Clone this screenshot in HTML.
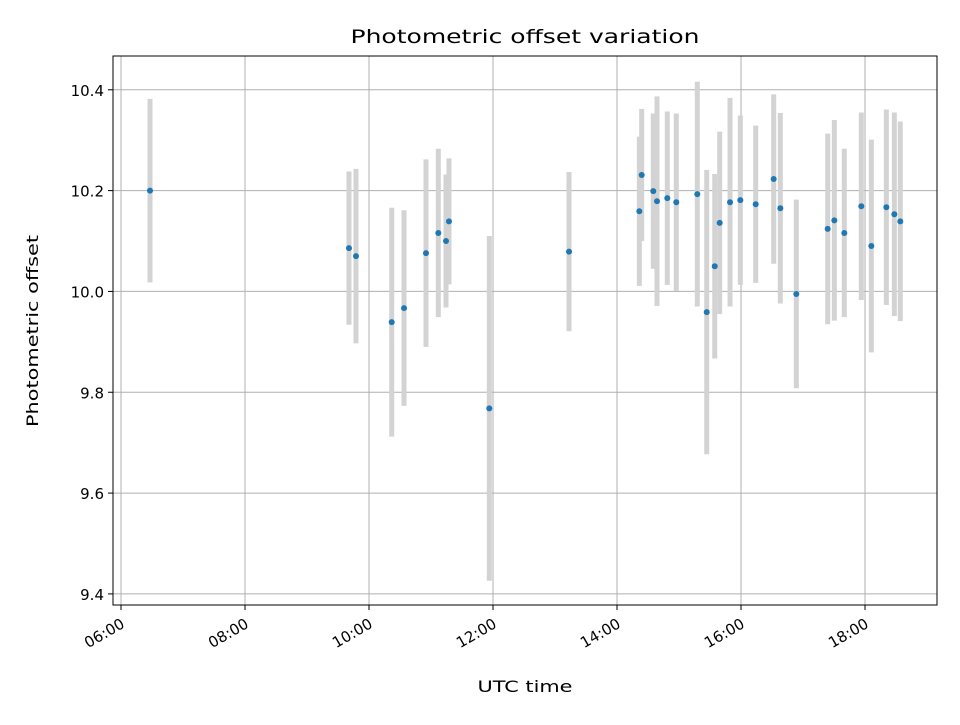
<!DOCTYPE html>
<html><head><meta charset="utf-8"><style>
body{margin:0;background:#fff;}
svg text{font-family:"DejaVu Sans","Liberation Sans",sans-serif;fill:#000;}
</style></head><body>
<svg id="chart" width="960" height="720" viewBox="0 0 960 720" xmlns="http://www.w3.org/2000/svg">
<rect width="960" height="720" fill="#fff"/>
<text x="525" y="43" font-size="19" text-anchor="middle" textLength="349" lengthAdjust="spacingAndGlyphs">Photometric offset variation</text>
<g id="grid"></g>
<g id="bars"></g>
<g id="dots"></g>
<rect x="113" y="56" width="824" height="549" fill="none" stroke="#000" stroke-width="1"/>
<g id="ticks"></g>
<text x="525" y="692" font-size="16" text-anchor="middle" textLength="95" lengthAdjust="spacingAndGlyphs">UTC time</text>
<text transform="translate(38,331) rotate(-90)" font-size="16" text-anchor="middle" textLength="192" lengthAdjust="spacingAndGlyphs">Photometric offset</text>
</svg>
<script>
const times = [6.468,9.677,9.790,10.366,10.565,10.919,11.118,11.242,11.290,11.940,13.226,14.360,14.398,14.585,14.645,14.811,14.956,15.295,15.447,15.576,15.656,15.823,15.989,16.237,16.527,16.634,16.892,17.398,17.505,17.666,17.940,18.102,18.344,18.473,18.569];
const offsets = [10.200,10.086,10.070,9.939,9.967,10.076,10.116,10.100,10.139,9.768,10.079,10.159,10.231,10.199,10.179,10.185,10.177,10.193,9.959,10.050,10.136,10.177,10.181,10.173,10.223,10.165,9.995,10.124,10.141,10.116,10.169,10.090,10.167,10.153,10.139];
const errors = [0.182,0.152,0.173,0.227,0.194,0.186,0.167,0.132,0.125,0.342,0.158,0.148,0.131,0.154,0.208,0.172,0.176,0.223,0.282,0.183,0.181,0.207,0.168,0.156,0.168,0.189,0.187,0.189,0.199,0.167,0.186,0.211,0.194,0.202,0.198];
const xTickHours = [6,8,10,12,14,16,18];
const xTickLabels = ["06:00","08:00","10:00","12:00","14:00","16:00","18:00"];
const yTicks = [9.4,9.6,9.8,10.0,10.2,10.4];
const yTickLabels = ["9.4","9.6","9.8","10.0","10.2","10.4"];

const X0=113,X1=937,Y0=56,Y1=605;
const xMin=5.871,xMax=19.161,yMin=9.378,yMax=10.467;
function sx(h){return X0+(h-xMin)/(xMax-xMin)*(X1-X0);}
function sy(v){return Y1-(v-yMin)/(yMax-yMin)*(Y1-Y0);}
const NS="http://www.w3.org/2000/svg";
function mk(tag,parent,attrs){const e=document.createElementNS(NS,tag);for(const k in attrs)e.setAttribute(k,attrs[k]);document.getElementById(parent).appendChild(e);return e;}

xTickHours.forEach((h,i)=>{
  const x=sx(h);
  const g=mk('line','grid',{x1:x,x2:x,y1:Y0,y2:Y1,stroke:'#b0b0b0','stroke-width':1});
  
  
  const t=mk('line','ticks',{x1:x,x2:x,y1:Y1,y2:Y1+5,stroke:'#000'});
  
  
  const ax=x-1, ay=Y1+12;
  const l=mk('text','ticks',{x:ax,y:ay,'font-size':15,'text-anchor':'end',transform:`rotate(-30 ${ax} ${ay})`,dy:'0.75em'});
  l.textContent=xTickLabels[i];
  
  
});
yTicks.forEach((v,i)=>{
  const y=sy(v);
  const g=mk('line','grid',{x1:X0,x2:X1,y1:y,y2:y,stroke:'#b0b0b0','stroke-width':1});
  
  
  const t=mk('line','ticks',{x1:X0-5,x2:X0,y1:y,y2:y,stroke:'#000'});
  
  
  const l=mk('text','ticks',{x:X0-9,y:y+6,'font-size':15,'text-anchor':'end'});
  l.textContent=yTickLabels[i];
  
  
});
times.forEach((h,i)=>{
  const x=sx(h);
  const b=mk('line','bars',{x1:x,x2:x,y1:sy(offsets[i]+errors[i]),y2:sy(offsets[i]-errors[i]),stroke:'#d3d3d3','stroke-width':5});
  
  
  const d=mk('circle','dots',{cx:x,cy:sy(offsets[i]),r:3,fill:'#1f77b4'});
  
  
});
</script>
</body></html>
